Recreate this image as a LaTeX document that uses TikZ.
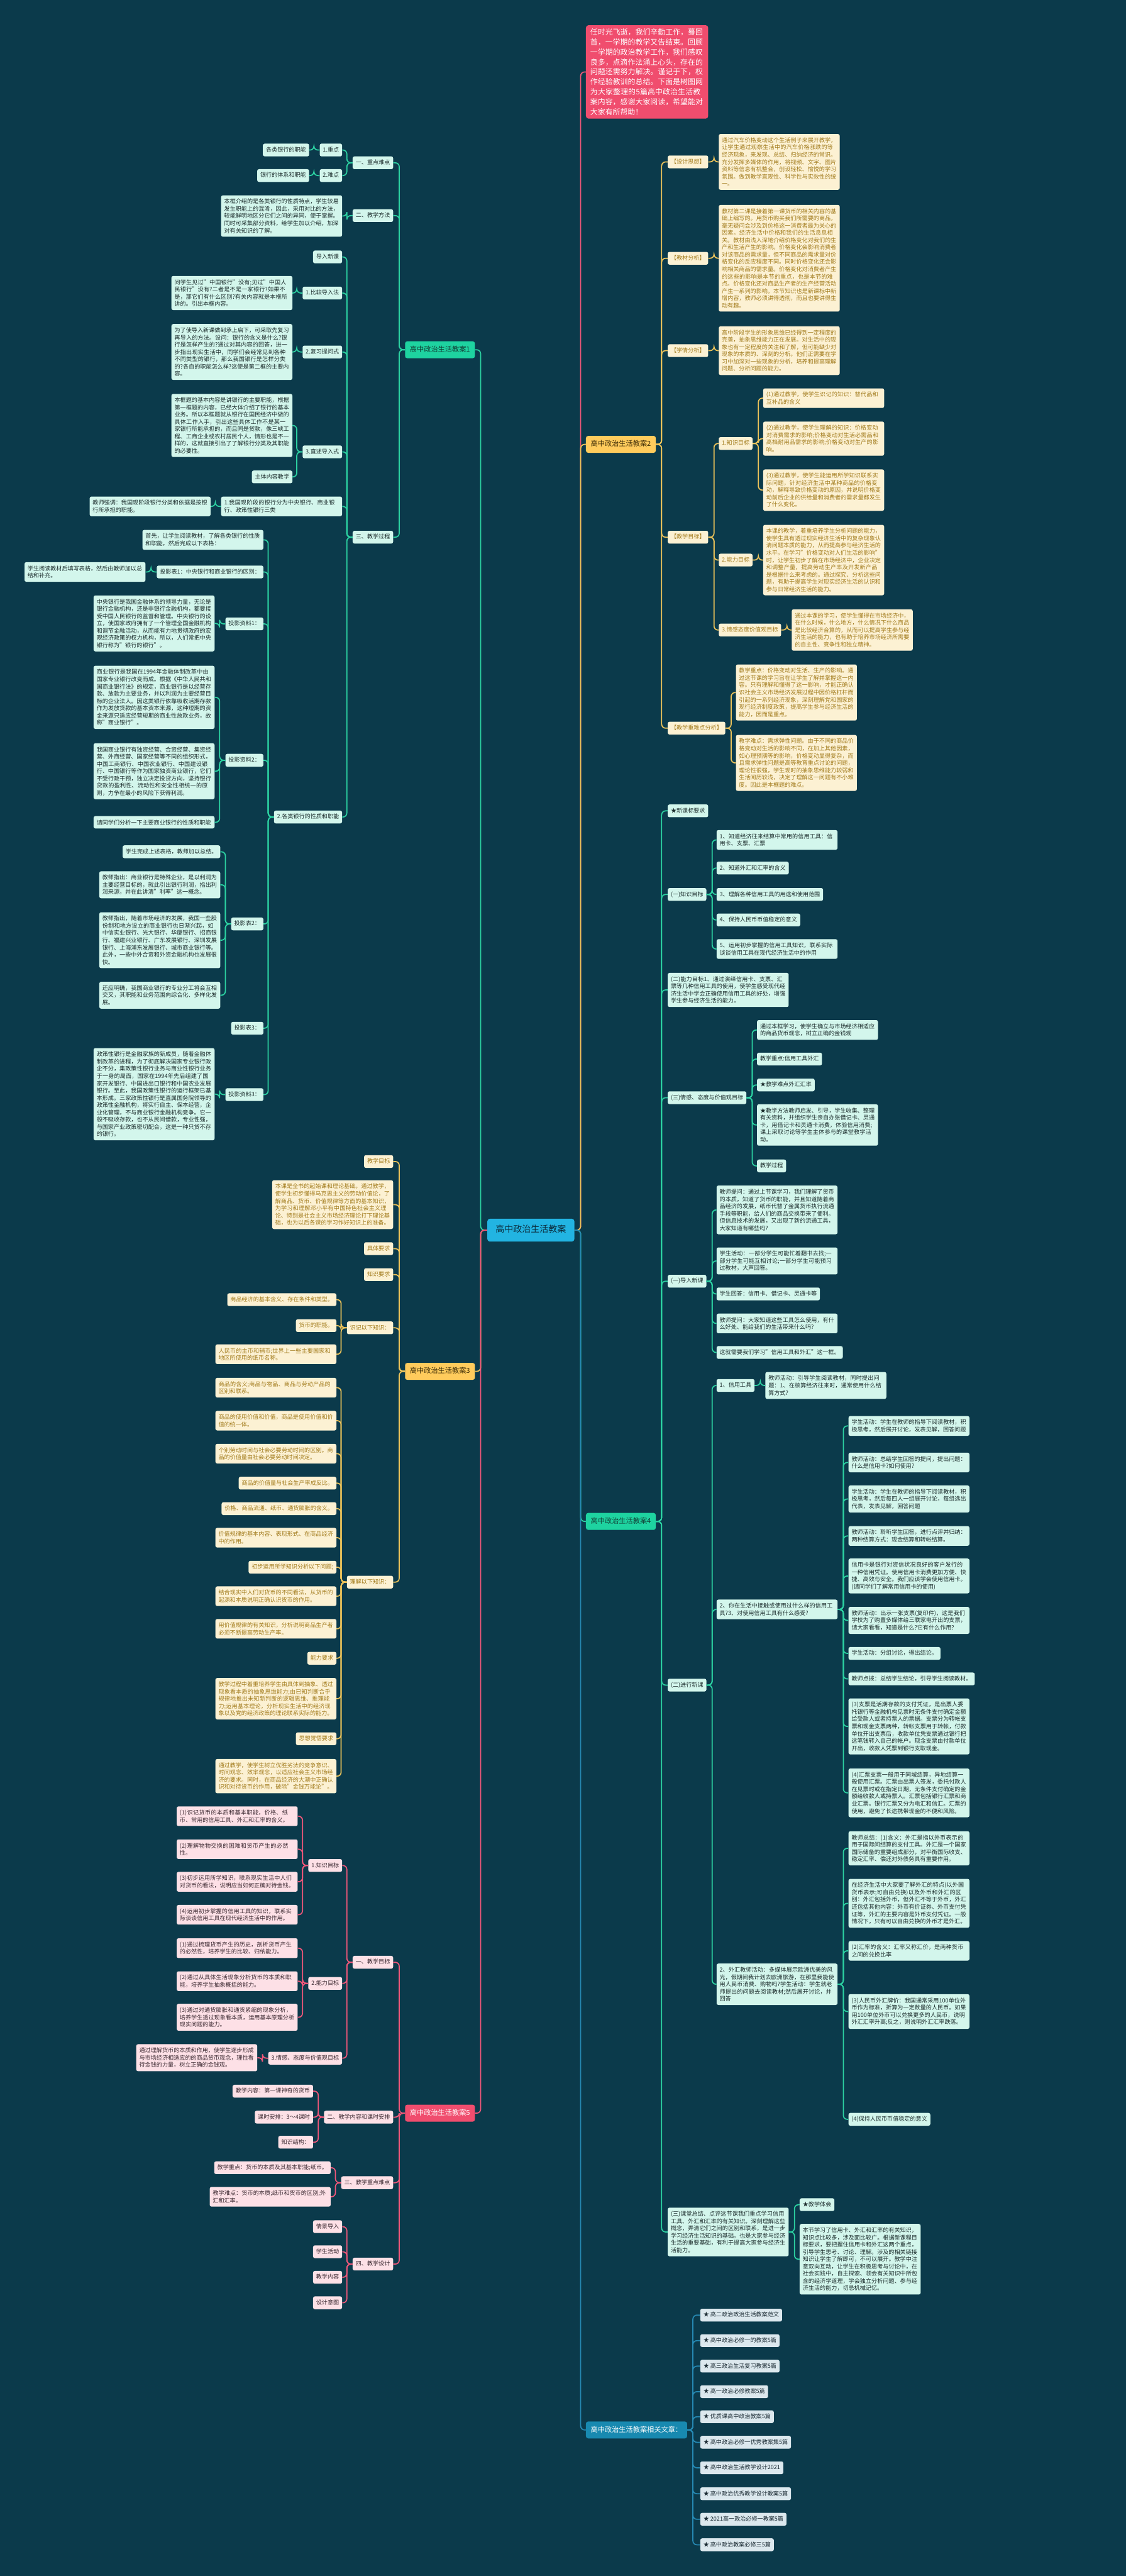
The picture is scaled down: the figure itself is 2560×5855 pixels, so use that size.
\documentclass[tikz,border=0pt]{standalone}
\usepackage{fontspec}
\setmainfont{Noto Sans CJK SC}
\XeTeXlinebreaklocale "zh"
\XeTeXlinebreakskip=0pt plus 1pt
\definecolor{bgc}{HTML}{0B3A4B}
\definecolor{cfill}{HTML}{22B4E2}
\definecolor{ctext}{HTML}{0B2A3A}
\definecolor{tbr}{HTML}{1ED3A0}
\definecolor{tbt}{HTML}{123C34}
\definecolor{tlf}{HTML}{D3F6EC}
\definecolor{tlt}{HTML}{1B2B2B}
\definecolor{tline}{HTML}{2CD2A2}
\definecolor{ybr}{HTML}{FFCB5C}
\definecolor{ybt}{HTML}{3A2A05}
\definecolor{ylf}{HTML}{FCF1D3}
\definecolor{ylt}{HTML}{A27B1C}
\definecolor{yline}{HTML}{EDC35A}
\definecolor{pbr}{HTML}{F04D6E}
\definecolor{plf}{HTML}{FDE0E6}
\definecolor{plt}{HTML}{3A2830}
\definecolor{pline}{HTML}{F0577A}
\definecolor{bbr}{HTML}{1889B0}
\definecolor{blf}{HTML}{DCE8EE}
\definecolor{blt}{HTML}{1A2A33}
\definecolor{bline}{HTML}{2689B3}
\newcommand\fsn{\fontsize{13}{16.5}\selectfont}
\newcommand\fsb{\fontsize{16}{20}\selectfont}
\newcommand\fsc{\fontsize{20}{24}\selectfont}
\newcommand\fsi{\fontsize{17}{22.6}\selectfont}
\newcommand\er[3]{\draw[#1] (#2.east) -- ++(13,0) |- (#3.west);}
\newcommand\el[3]{\draw[#1] (#2.west) -- ++(-13,0) |- (#3.east);}
\tikzset{
 lab/.style={rounded corners=4pt, inner xsep=7pt, inner ysep=8pt, text height=10.5pt, text depth=2.5pt, font=\fsn},
 box/.style={rounded corners=4pt, inner xsep=7pt, inner ysep=8pt, text width=261pt, align=left, font=\fsn},
 tL/.style={lab, fill=tlf, text=tlt}, tB/.style={box, fill=tlf, text=tlt},
 yL/.style={lab, fill=ylf, text=ylt}, yB/.style={box, fill=ylf, text=ylt},
 pL/.style={lab, fill=plf, text=plt}, pB/.style={box, fill=plf, text=plt},
 bL/.style={lab, fill=blf, text=blt},
 brn/.style={rounded corners=5pt, inner xsep=11pt, inner ysep=11.5pt, text height=12.5pt, text depth=3pt, font=\fsb},
 R/.style={anchor=west}, L/.style={anchor=east},
 te/.style={draw=tline, line width=2.5pt, rounded corners=9pt},
 ye/.style={draw=yline, line width=2.5pt, rounded corners=9pt},
 pe/.style={draw=pline, line width=2.5pt, rounded corners=9pt},
 be/.style={draw=bline, line width=2.5pt, rounded corners=9pt}
}
\begin{document}
\begin{tikzpicture}[x=1pt,y=-1pt]
\fill[bgc] (0,0) rectangle (2560,5855);
\useasboundingbox (0,0) rectangle (2560,5855);
% centre
\node[rounded corners=6pt, fill=cfill, text=ctext, font=\fsc, inner xsep=19pt, inner ysep=16.5pt, text height=15pt, text depth=4pt] (C) at (1207,2796) {高中政治生活教案};
% ================= RIGHT =================
\node[anchor=north west, fill=pbr, text=white, rounded corners=6pt, font=\fsi, text width=258pt, align=left, inner xsep=10pt, inner ysep=8pt] (IN) at (1332,57) {任时光飞逝，我们辛勤工作，蓦回首，一学期的教学又告结束。回顾一学期的政治教学工作，我们感叹良多，点滴作法涌上心头，存在的问题还需努力解决。谨记于下，权作经验教训的总结。下面是树图网为大家整理的5篇高中政治生活教案内容，感谢大家阅读，希望能对大家有所帮助！};
% ---- branch 2 (yellow)
\node[brn, fill=ybr, text=ybt, R] (B2) at (1332,1010) {高中政治生活教案2};
\node[yL,R] (y1) at (1518,368) {【设计思想】};
\node[yB,R] (y1t) at (1634,368) {通过汽车价格变动这个生活例子来展开教学，让学生通过观察生活中的汽车价格涨跌的等经济现象，来发现、总结、归纳经济的常识。充分发挥多媒体的作用，将视频、文字、图片资料等信息有机整合，创设轻松、愉悦的学习氛围。做到教学直观性、科学性与实效性的统一。};
\node[yL,R] (y2) at (1518,587) {【教材分析】};
\node[yB,R] (y2t) at (1634,587) {教材第二课是接着第一课货币的相关内容的基础上编写的。用货币购买我们所需要的商品，毫无疑问会涉及到价格这一消费者最为关心的因素。经济生活中价格和我们的生活息息相关。教材由浅入深地介绍价格变化对我们的生产和生活产生的影响。价格变化会影响消费者对该商品的需求量，但不同商品的需求量对价格变化的反应程度不同。同时价格变化还会影响相关商品的需求量。价格变化对消费者产生的这些的影响是本节的重点，也是本节的难点。价格变化还对商品生产者的生产经营活动产生一系列的影响。本节知识也是新课标中新增内容，教师必须讲得透彻，而且也要讲得生动有趣。};
\node[yL,R] (y3) at (1518,797) {【学情分析】};
\node[yB,R] (y3t) at (1634,797) {高中阶段学生的形象思维已经得到一定程度的完善，抽象思维能力正在发展。对生活中的现象也有一定程度的关注和了解，但可能缺少对现象的本质的、深刻的分析。他们正需要在学习中加深对一些现象的分析，培养和提高理解问题、分析问题的能力。};
\node[yL,R] (y4) at (1518,1221) {【教学目标】};
\node[yL,R] (y41) at (1634,1008) {1.知识目标};
\node[yB,R] (y41a) at (1735,905) {(1)通过教学，使学生识记的知识：替代品和互补品的含义};
\node[yB,R] (y41b) at (1735,997) {(2)通过教学，使学生理解的知识：价格变动对消费需求的影响;价格变动对生活必需品和高档耐用品需求的影响;价格变动对生产的影响。};
\node[yB,R] (y41c) at (1735,1114) {(3)通过教学，使学生能运用所学知识联系实际问题，针对经济生活中某种商品的价格变动，解释导致价格变动的原因，并说明价格变动前后企业的供给量和消费者的需求量都发生了什么变化。};
\node[yL,R] (y42) at (1634,1273) {2.能力目标};
\node[yB,R] (y42t) at (1735,1273) {本课的教学，着重培养学生分析问题的能力，使学生具有透过现实经济生活中的复杂现象认清问题本质的能力，从而提高参与经济生活的水平。在学习"价格变动对人们生活的影响"时，让学生初步了解在市场经济中，企业决定和调整产量，提高劳动生产率及开发新产品是根据什么来考虑的。通过探究、分析这些问题，有助于提高学生对现实经济生活的认识和参与日常经济生活的能力。};
\node[yL,R] (y43) at (1634,1432) {3.情感态度价值观目标};
\node[yB,R] (y43t) at (1800,1432) {通过本课的学习，使学生懂得在市场经济中，在什么时候，什么地方，什么情况下什么商品是比较经济合算的，从而可以提高学生参与经济生活的能力，也有助于培养市场经济所需要的自主性、竞争性和独立精神。};
\node[yL,R] (y5) at (1518,1655) {【教学重难点分析】};
\node[yB,R] (y51) at (1673,1574) {教学重点：价格变动对生活、生产的影响。通过这节课的学习旨在让学生了解并掌握这一内容。只有理解和懂得了这一影响，才能正确认识社会主义市场经济发展过程中因价格杠杆而引起的一系列经济现象，深刻理解党和国家的现行经济制度政策，提高学生参与经济生活的能力，因而是重点。};
\node[yB,R] (y52) at (1673,1734) {教学难点：需求弹性问题。由于不同的商品价格变动对生活的影响不同，在加上其他因素，如心理预期等的影响，价格变动显得复杂，而且需求弹性问题是高等教育重点讨论的问题，理论性很强，学生现时的抽象思维能力较弱和生活阅历较浅，决定了理解这一问题有不小难度。因此是本框题的难点。};
% ---- branch 4 (teal)
\node[brn, fill=tbr, text=tbt, R] (B4) at (1332,3458) {高中政治生活教案4};
\node[tL,R] (t1) at (1518,1843) {★新课标要求};
\node[tL,R] (t2) at (1518,2033) {(一)知识目标};
\node[tB,R] (t21) at (1629,1909) {1、知道经济往来结算中常用的信用工具：信用卡、支票、汇票};
\node[tL,R] (t22) at (1629,1973) {2、知道外汇和汇率的含义};
\node[tL,R] (t23) at (1629,2033) {3、理解各种信用工具的用途和使用范围};
\node[tL,R] (t24) at (1629,2091) {4、保持人民币币值稳定的意义};
\node[tB,R] (t25) at (1629,2157) {5、运用初步掌握的信用工具知识，联系实际谈谈信用工具在现代经济生活中的作用};
\node[tB,R] (t3) at (1518,2250) {(二)能力目标1、通过演绎信用卡、支票、汇票等几种信用工具的使用，使学生感受现代经济生活中学会正确使用信用工具的好处，增强学生参与经济生活的能力。};
\node[tL,R] (t4) at (1518,2495) {(三)情感、态度与价值观目标};
\node[tB,R] (t41) at (1721,2341) {通过本框学习，使学生确立与市场经济相适应的商品货币观念，树立正确的金钱观};
\node[tL,R] (t42) at (1721,2407) {教学重点:信用工具外汇};
\node[tL,R] (t43) at (1721,2466) {★教学难点外汇汇率};
\node[tB,R] (t44) at (1721,2557) {★教学方法教师启发、引导，学生收集、整理有关资料，并组织学生亲自办张借记卡、灵通卡，用借记卡和灵通卡消费，体验信用消费;课上采取讨论等学生主体参与的课堂教学活动。};
\node[tL,R] (t45) at (1721,2650) {教学过程};
\node[tL,R] (t5) at (1518,2912) {(一)导入新课};
\node[tB,R] (t51) at (1629,2750) {教师提问：通过上节课学习，我们理解了货币的本质，知道了货币的职能，并且知道随着商品经济的发展，纸币代替了金属货币执行流通手段等职能，给人们的商品交换带来了便利。但信息技术的发展，又出现了新的流通工具，大家知道有哪些吗?};
\node[tB,R] (t52) at (1629,2866) {学生活动：一部分学生可能忙着翻书去找;一部分学生可能互相讨论;一部分学生可能预习过教材，大声回答。};
\node[tL,R] (t53) at (1629,2941) {学生回答：信用卡、借记卡、灵通卡等};
\node[tB,R] (t54) at (1629,3008) {教师提问：大家知道这些工具怎么使用，有什么好处、能给我们的生活带来什么吗?};
\node[tL,R] (t55) at (1629,3074) {这就需要我们学习"信用工具和外汇"这一框。};
\node[tL,R] (t6) at (1518,3830) {(二)进行新课};
\node[tL,R] (t61) at (1629,3149) {1、信用工具};
\node[tB,R] (t61t) at (1740,3149) {教师活动：引导学生阅读教材，同时提出问题：1、在核算经济往来时，通常使用什么结算方式?};
\node[tB,R] (t62) at (1629,3658) {2、你在生活中接触或使用过什么样的信用工具?3、对使用信用工具有什么感受?};
\node[tB,R] (r1) at (1929,3241) {学生活动：学生在教师的指导下阅读教材，积极思考，然后展开讨论，发表见解，回答问题};
\node[tB,R] (r2) at (1929,3324) {教师活动：总结学生回答的提问，提出问题：什么是信用卡?如何使用?};
\node[tB,R] (r3) at (1929,3407) {学生活动：学生在教师的指导下阅读教材，积极思考，然后每四人一组展开讨论，每组选出代表，发表见解，回答问题};
\node[tB,R] (r4) at (1929,3491) {教师活动：聆听学生回答，进行点评并归纳：两种结算方式：现金结算和转帐结算。};
\node[tB,R] (r5) at (1929,3582) {信用卡是银行对资信状况良好的客户发行的一种信用凭证。使用信用卡消费更加方便、快捷、高效与安全。我们应该学会使用信用卡。(请同学们了解常用信用卡的使用)};
\node[tB,R] (r6) at (1929,3683) {教师活动：出示一张支票(复印件)，这是我们学校为了购置多媒体给三联家电开出的支票，请大家看看，知道是什么?它有什么作用?};
\node[tL,R] (r7) at (1929,3758) {学生活动：分组讨论，得出结论。};
\node[tL,R] (r8) at (1929,3816) {教师点拨：总结学生结论，引导学生阅读教材。};
\node[tB,R] (r9) at (1929,3924) {(3)支票是活期存款的支付凭证，是出票人委托银行等金融机构见票时无条件支付确定金额给受款人或者持票人的票据。支票分为转帐支票和现金支票两种，转帐支票用于转帐，付款单位开出支票后，收款单位凭支票通过银行把这笔钱转入自己的帐户。现金支票由付款单位开出，收款人凭票到银行支取现金。};
\node[tB,R] (r10) at (1929,4075) {(4)汇票支票一般用于同城结算，异地结算一般使用汇票。汇票由出票人签发，委托付款人在见票时或在指定日期，无条件支付确定的金额给收款人或持票人。汇票包括银行汇票和商业汇票。银行汇票又分为电汇和信汇。汇票的使用，避免了长途携带现金的不便和风险。};
\node[tB,R] (t63) at (1629,4510) {2、外汇教师活动：多媒体展示欧洲优美的风光，假期间我计划去欧洲旅游，在那里我能使用人民币消费、购物吗?学生活动：学生就老师提出的问题去阅读教材;然后展开讨论，并回答};
\node[tB,R] (s1) at (1929,4201) {教师总结：(1)含义：外汇是指以外币表示的用于国际间结算的支付工具。外汇是一个国家国际储备的重要组成部分，对平衡国际收支、稳定汇率、偿还对外债务具有重要作用。};
\node[tB,R] (s2) at (1929,4326) {在经济生活中大家要了解外汇的特点(以外国货币表示;可自由兑换)以及外币和外汇的区别：外汇包括外币，但外汇不等于外币，外汇还包括其他内容：外币有价证券、外币支付凭证等，外汇的主要内容是外币支付凭证。一般情况下，只有可以自由兑换的外币才是外汇。};
\node[tB,R] (s3) at (1929,4434) {(2)汇率的含义：汇率又称汇价，是两种货币之间的兑换比率};
\node[tB,R] (s4) at (1929,4572) {(3)人民币外汇牌价：我国通常采用100单位外币作为标准，折算为一定数量的人民币。如果用100单位外币可以兑换更多的人民币，说明外汇汇率升高;反之，则说明外汇汇率跌落。};
\node[tL,R] (s5) at (1929,4817) {(4)保持人民币币值稳定的意义};
\node[tB,R] (t7) at (1518,5073) {(三)课堂总结、点评这节课我们重点学习信用工具、外汇和汇率的有关知识。深刻理解这些概念，弄清它们之间的区别和联系，是进一步学习经济生活知识的基础。也是大家参与经济生活的重要基础，有利于提高大家参与经济生活能力。};
\node[tL,R] (t71) at (1818,5011) {★教学体会};
\node[tB,R] (t72) at (1818,5135) {本节学习了信用卡、外汇和汇率的有关知识，知识点比较多，涉及面比较广。根据新课程目标要求，要把握住信用卡和外汇这两个重点，引导学生思考、讨论、理解。涉及的相关链接知识让学生了解即可，不可以展开。教学中注意双向互动，让学生在积极思考与讨论中，在社会实践中，自主探索、领会有关知识中所包含的经济学道理，学会独立分析问题、参与经济生活的能力，切忌机械记忆。};
% ---- related (blue)
\node[brn, fill=bbr, text=white, R] (B6) at (1332,5523) {高中政治生活教案相关文章：};
\node[bL,R] (a1) at (1592,5262) {★ 高二政治政治生活教案范文};
\node[bL,R] (a2) at (1592,5320) {★ 高中政治必修一的教案5篇};
\node[bL,R] (a3) at (1592,5378) {★ 高三政治生活复习教案5篇};
\node[bL,R] (a4) at (1592,5436) {★ 高一政治必修教案5篇};
\node[bL,R] (a5) at (1592,5493) {★ 优质课高中政治教案5篇};
\node[bL,R] (a6) at (1592,5551) {★ 高中政治必修一优秀教案集5篇};
\node[bL,R] (a7) at (1592,5609) {★ 高中政治生活教学设计2021};
\node[bL,R] (a8) at (1592,5668) {★ 高中政治优秀教学设计教案5篇};
\node[bL,R] (a9) at (1592,5726) {★ 2021高一政治必修一教案5篇};
\node[bL,R] (a10) at (1592,5784) {★ 高中政治教案必修三5篇};
% ================= LEFT =================
\node[brn, fill=tbr, text=tbt, L] (B1) at (1080,795) {高中政治生活教案1};
\node[tL,L] (l1) at (894,370) {一、重点难点};
\node[tL,L] (l11) at (778,341) {1.重点};
\node[tL,L] (l11t) at (703,341) {各类银行的职能};
\node[tL,L] (l12) at (778,399) {2.难点};
\node[tL,L] (l12t) at (703,399) {银行的体系和职能};
\node[tL,L] (l2) at (894,490) {二、教学方法};
\node[tB,L] (l2t) at (778,491) {本框介绍的是各类银行的性质特点，学生较易发生职能上的混淆，因此，采用对比的方法，较能鲜明地区分它们之间的异同，便于掌握。同时可采集部分资料，给学生加以介绍，加深对有关知识的了解。};
\node[tL,L] (l3) at (894,1221) {三、教学过程};
\node[tL,L] (l31) at (778,584) {导入新课};
\node[tL,L] (l32) at (778,666) {1.比较导入法};
\node[tB,L] (l32t) at (665,666) {问学生见过"中国银行"没有;见过"中国人民银行"没有?二者是不是一家银行?如果不是，那它们有什么区别?有关内容就是本框所讲的。引出本框内容。};
\node[tL,L] (l33) at (778,800) {2.复习提问式};
\node[tB,L] (l33t) at (665,800) {为了使导入新课做到承上启下，可采取先复习再导入的方法。设问：银行的含义是什么?银行是怎样产生的?通过对其内容的回答，进一步指出现实生活中，同学们会经常见到各种不同类型的银行，那么我国银行是怎样分类的?各自的职能怎么样?这便是第二框的主要内容。};
\node[tL,L] (l34) at (778,1027) {3.直述导入式};
\node[tB,L] (l34a) at (665,967) {本框题的基本内容是讲银行的主要职能，根据第一框题的内容，已经大体介绍了银行的基本业务。所以本框题就从银行在国民经济中做的具体工作入手，引出这些具体工作不是某一家银行所能承担的，而且同是贷款，像三峡工程、工商企业或农村居民个人，情形也是不一样的，这就直接引出了了解银行分类及其职能的必要性。};
\node[tL,L] (l34b) at (665,1084) {主体内容教学};
\node[tB,L] (l35) at (778,1151) {1.我国现阶段的银行分为中央银行、商业银行、政策性银行三类};
\node[tB,L] (l35t) at (479,1151) {教师强调：我国现阶段银行分类和依据是按银行所承担的职能。};
\node[tL,L] (l36) at (778,1857) {2.各类银行的性质和职能};
\node[tB,L] (l361) at (599,1227) {首先，让学生阅读教材，了解各类银行的性质和职能，然后完成以下表格：};
\node[tL,L] (l362) at (599,1300) {投影表1：中央银行和商业银行的区别：};
\node[tB,L] (l362t) at (331,1300) {学生阅读教材后填写表格，然后由教师加以总结和补充。};
\node[tL,L] (l363) at (599,1418) {投影资料1：};
\node[tB,L] (l363t) at (488,1417) {中央银行是我国金融体系的领导力量，无论是银行金融机构，还是非银行金融机构，都要接受中国人民银行的监督和管理。中央银行的设立，使国家政府拥有了一个管理全国金融机构和调节金融活动，从而能有力地贯彻政府的宏观经济政策的权力机构，所以，人们常把中央银行称为"银行的银行"。};
\node[tL,L] (l364) at (599,1728) {投影资料2：};
\node[tB,L] (l364a) at (488,1585) {商业银行是我国在1994年金融体制改革中由国家专业银行改变而成。根据《中华人民共和国商业银行法》的规定，商业银行是以经营存款、放款为主要业务，并以利润为主要经营目标的企业法人。因这类银行依靠吸收活期存款作为发放贷款的基本资本来源，这种短期的资金来源只适应经营短期的商业性放款业务，故称"商业银行"。};
\node[tB,L] (l364b) at (488,1753) {我国商业银行有独资经营、合资经营、集资经营、外商经营、国家经营等不同的组织形式，中国工商银行、中国农业银行、中国建设银行、中国银行等作为国家独资商业银行，它们不受行政干预，独立决定投贷方向，坚持银行贷款的盈利性、流动性和安全性相统一的原则，力争在最小的风险下获得利润。};
\node[tB,L] (l364c) at (488,1869) {请同学们分析一下主要商业银行的性质和职能};
\node[tL,L] (l365) at (599,2100) {投影表2：};
\node[tL,L] (l365a) at (501,1936) {学生完成上述表格，教师加以总结。};
\node[tB,L] (l365b) at (501,2011) {教师指出：商业银行是特殊企业，是以利润为主要经营目标的，就此引出银行利润，指出利润来源，并在此讲清"利率"这一概念。};
\node[tB,L] (l365c) at (501,2137) {教师指出，随着市场经济的发展，我国一些股份制和地方设立的商业银行也日渐兴起，如中信实业银行、光大银行、华厦银行、招商银行、福建兴业银行、广东发展银行、深圳发展银行、上海浦东发展银行、城市商业银行等。此外，一些中外合资和外资金融机构也发展很快。};
\node[tB,L] (l365d) at (501,2262) {还应明确，我国商业银行的专业分工将会互相交叉，其职能和业务范围向综合化、多样化发展。};
\node[tL,L] (l366) at (599,2337) {投影表3：};
\node[tL,L] (l367) at (599,2488) {投影资料3：};
\node[tB,L] (l367t) at (488,2487) {政策性银行是金融家族的新成员，随着金融体制改革的进程，为了彻底解决国家专业银行政企不分，集政策性银行业务与商业性银行业务于一身的局面，国家在1994年先后组建了国家开发银行、中国进出口银行和中国农业发展银行。至此，我国政策性银行的运行框架已基本形成。三家政策性银行是直属国务院领导的政策性金融机构，将实行自主、保本经营，企业化管理，不与商业银行金融机构竞争。它一般不吸收存款，也不从民间借款，专业性强，与国家产业政策密切配合，这是一种只贷不存的银行。};
% ---- branch 3 (yellow)
\node[brn, fill=ybr, text=ybt, L] (B3) at (1080,3117) {高中政治生活教案3};
\node[yL,L] (m1) at (894,2640) {教学目标};
\node[yB,L] (m2) at (894,2738) {本课是全书的起始课和理论基础。通过教学，使学生初步懂得马克思主义的劳动价值论，了解商品、货币、价值规律等方面的基本知识，为学习和理解邓小平有中国特色社会主义理论、特别是社会主义市场经济理论打下理论基础，也为以后各课的学习作好知识上的准备。};
\node[yL,L] (m3) at (894,2838) {具体要求};
\node[yL,L] (m4) at (894,2897) {知识要求};
\node[yL,L] (m5) at (894,3018) {识记以下知识：};
\node[yL,L] (m51) at (765,2954) {商品经济的基本含义、存在条件和类型。};
\node[yL,L] (m52) at (765,3013) {货币的职能。};
\node[yB,L] (m53) at (765,3078) {人民币的主币和辅币;世界上一些主要国家和地区所使用的纸币名称。};
\node[yL,L] (m6) at (894,3596) {理解以下知识：};
\node[yB,L] (m61) at (765,3154) {商品的含义;商品与物品、商品与劳动产品的区别和联系。};
\node[yB,L] (m62) at (765,3229) {商品的使用价值和价值，商品是使用价值和价值的统一体。};
\node[yB,L] (m63) at (765,3304) {个别劳动时间与社会必要劳动时间的区别。商品的价值量由社会必要劳动时间决定。};
\node[yL,L] (m64) at (765,3371) {商品的价值量与社会生产率成反比。};
\node[yL,L] (m65) at (765,3429) {价格、商品流通、纸币、通货膨胀的含义。};
\node[yB,L] (m66) at (765,3495) {价值规律的基本内容、表现形式、在商品经济中的作用。};
\node[yL,L] (m67) at (765,3562) {初步运用所学知识分析以下问题;};
\node[yB,L] (m68) at (765,3628) {结合现实中人们对货币的不同看法，从货币的起源和本质说明正确认识货币的作用。};
\node[yB,L] (m69) at (765,3702) {用价值规律的有关知识，分析说明商品生产者必须不断提高劳动生产率。};
\node[yL,L] (m610) at (765,3769) {能力要求};
\node[yB,L] (m611) at (765,3861) {教学过程中着重培养学生由具体到抽象、透过现象看本质的抽象思维能力;由已知判断合乎规律地推出未知新判断的逻辑思维、推理能力;运用基本理论，分析现实生活中的经济现象以及党的经济政策的理论联系实际的能力。};
\node[yL,L] (m612) at (765,3952) {思想觉悟要求};
\node[yB,L] (m613) at (765,4037) {通过教学，使学生树立优胜劣汰的竞争意识、时间观念、效率观念，以适应社会主义市场经济的要求。同时，在商品经济的大潮中正确认识和对待货币的作用，破除"金钱万能论"。};
% ---- branch 5 (pink)
\node[brn, fill=pbr, text=white, L] (B5) at (1080,4803) {高中政治生活教案5};
\node[pL,L] (n1) at (894,4460) {一、教学目标};
\node[pL,L] (n11) at (778,4240) {1.知识目标};
\node[pB,L] (n111) at (677,4128) {(1)识记货币的本质和基本职能，价格、纸币、常用的信用工具、外汇和汇率的含义。};
\node[pB,L] (n112) at (677,4203) {(2)理解物物交换的困难和货币产生的必然性。};
\node[pB,L] (n113) at (677,4277) {(3)初步运用所学知识，联系现实生活中人们对货币的看法，说明应当如何正确对待金钱。};
\node[pB,L] (n114) at (677,4352) {(4)运用初步掌握的信用工具的知识，联系实际谈谈信用工具在现代经济生活中的作用。};
\node[pL,L] (n12) at (778,4508) {2.能力目标};
\node[pB,L] (n121) at (677,4428) {(1)通过梳理货币产生的历史，剖析货币产生的必然性，培养学生的比较、归纳能力。};
\node[pB,L] (n122) at (677,4503) {(2)通过从具体生活现象分析货币的本质和职能，培养学生抽象概括的能力。};
\node[pB,L] (n123) at (677,4585) {(3)通过对通货膨胀和通货紧缩的现象分析，培养学生透过现象看本质，运用基本原理分析现实问题的能力。};
\node[pL,L] (n13) at (778,4678) {3.情感、态度与价值观目标};
\node[pB,L] (n13t) at (585,4677) {通过理解货币的本质和作用，使学生逐步形成与市场经济相适应的的商品货币观念，理性看待金钱的力量，树立正确的金钱观。};
\node[pL,L] (n2) at (894,4812) {二、教学内容和课时安排};
\node[pL,L] (n21) at (712,4753) {教学内容：第一课神奇的货币};
\node[pL,L] (n22) at (712,4812) {课时安排：3～4课时};
\node[pL,L] (n23) at (712,4869) {知识结构：};
\node[pL,L] (n3) at (894,4961) {三、教学重点难点};
\node[pL,L] (n31) at (752,4927) {教学重点：货币的本质及其基本职能;纸币。};
\node[pB,L] (n32) at (752,4993) {教学难点：货币的本质;纸币和货币的区别;外汇和汇率。};
\node[pL,L] (n4) at (894,5146) {四、教学设计};
\node[pL,L] (n41) at (778,5061) {情景导入};
\node[pL,L] (n42) at (778,5118) {学生活动};
\node[pL,L] (n43) at (778,5176) {教学内容};
\node[pL,L] (n44) at (778,5234) {设计意图};
% ================= CONNECTORS =================
\draw[pe] (C.east) -- ++(14,0) |- (IN.west);
\draw[ye] (C.east) -- ++(14,0) |- (B2.west);
\draw[te] (C.east) -- ++(14,0) |- (B4.west);
\draw[be] (C.east) -- ++(14,0) |- (B6.west);
\draw[te] (C.west) -- ++(-15,0) |- (B1.east);
\draw[ye] (C.west) -- ++(-15,0) |- (B3.east);
\draw[pe] (C.west) -- ++(-15,0) |- (B5.east);
% branch 2
\foreach \c in {y1,y2,y3,y4,y5} {\er{ye}{B2}{\c}}
\er{ye}{y1}{y1t} \er{ye}{y2}{y2t} \er{ye}{y3}{y3t}
\foreach \c in {y41,y42,y43} {\er{ye}{y4}{\c}}
\foreach \c in {y41a,y41b,y41c} {\er{ye}{y41}{\c}}
\er{ye}{y42}{y42t} \er{ye}{y43}{y43t}
\er{ye}{y5}{y51} \er{ye}{y5}{y52}
% branch 4
\foreach \c in {t1,t2,t3,t4,t5,t6,t7} {\er{te}{B4}{\c}}
\foreach \c in {t21,t22,t23,t24,t25} {\er{te}{t2}{\c}}
\foreach \c in {t41,t42,t43,t44,t45} {\er{te}{t4}{\c}}
\foreach \c in {t51,t52,t53,t54,t55} {\er{te}{t5}{\c}}
\foreach \c in {t61,t62,t63} {\er{te}{t6}{\c}}
\er{te}{t61}{t61t}
\foreach \c in {r1,r2,r3,r4,r5,r6,r7,r8,r9,r10} {\er{te}{t62}{\c}}
\foreach \c in {s1,s2,s3,s4,s5} {\er{te}{t63}{\c}}
\er{te}{t7}{t71} \er{te}{t7}{t72}
% related
\foreach \c in {a1,a2,a3,a4,a5,a6,a7,a8,a9,a10} {\er{be}{B6}{\c}}
% branch 1
\foreach \c in {l1,l2,l3} {\el{te}{B1}{\c}}
\el{te}{l1}{l11} \el{te}{l1}{l12} \el{te}{l11}{l11t} \el{te}{l12}{l12t}
\el{te}{l2}{l2t}
\foreach \c in {l31,l32,l33,l34,l35,l36} {\el{te}{l3}{\c}}
\el{te}{l32}{l32t} \el{te}{l33}{l33t}
\el{te}{l34}{l34a} \el{te}{l34}{l34b}
\el{te}{l35}{l35t}
\foreach \c in {l361,l362,l363,l364,l365,l366,l367} {\el{te}{l36}{\c}}
\el{te}{l362}{l362t} \el{te}{l363}{l363t}
\foreach \c in {l364a,l364b,l364c} {\el{te}{l364}{\c}}
\foreach \c in {l365a,l365b,l365c,l365d} {\el{te}{l365}{\c}}
\el{te}{l367}{l367t}
% branch 3
\foreach \c in {m1,m2,m3,m4,m5,m6} {\el{ye}{B3}{\c}}
\foreach \c in {m51,m52,m53} {\el{ye}{m5}{\c}}
\foreach \c in {m61,m62,m63,m64,m65,m66,m67,m68,m69,m610,m611,m612,m613} {\el{ye}{m6}{\c}}
% branch 5
\foreach \c in {n1,n2,n3,n4} {\el{pe}{B5}{\c}}
\foreach \c in {n11,n12,n13} {\el{pe}{n1}{\c}}
\foreach \c in {n111,n112,n113,n114} {\el{pe}{n11}{\c}}
\foreach \c in {n121,n122,n123} {\el{pe}{n12}{\c}}
\el{pe}{n13}{n13t}
\foreach \c in {n21,n22,n23} {\el{pe}{n2}{\c}}
\el{pe}{n3}{n31} \el{pe}{n3}{n32}
\foreach \c in {n41,n42,n43,n44} {\el{pe}{n4}{\c}}
\end{tikzpicture}
\end{document}
